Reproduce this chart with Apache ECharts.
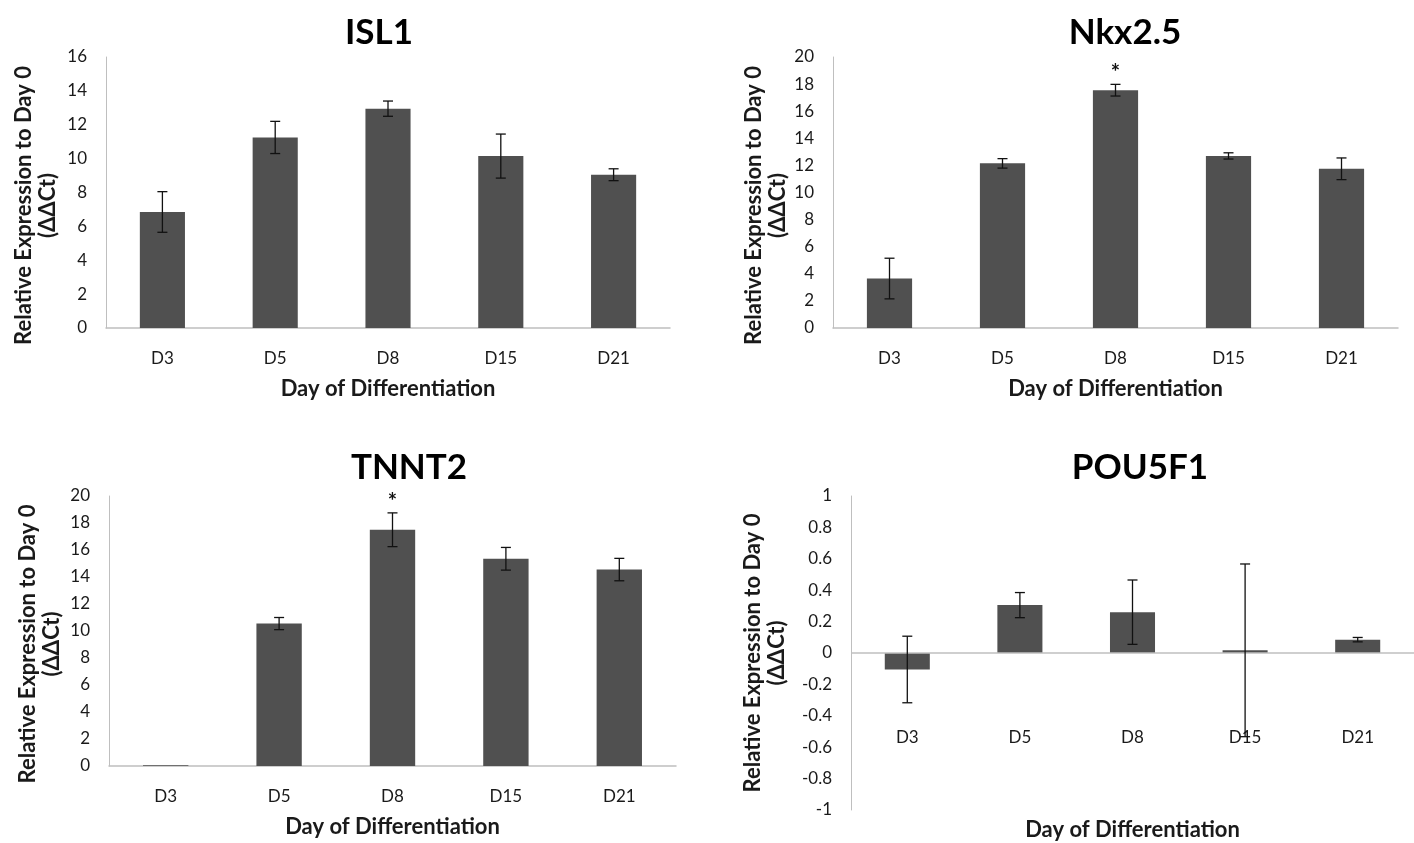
<!DOCTYPE html>
<html>
<head>
<meta charset="utf-8">
<script src="https://cdn.jsdelivr.net/npm/echarts@6/dist/echarts.min.js"></script>
<style>
  html, body { margin: 0; padding: 0; background: #fff; }
  #chart { width: 1414px; height: 843px; }
</style>
</head>
<body>
<div id="chart"></div>
<script>
// categories
const days = ["D3", "D5", "D8", "D15", "D21"];

// means and error (+/-)
const isl1Mean = [6.85, 11.25, 12.95, 10.15, 9.05];
const isl1Err = [1.2, 0.95, 0.45, 1.3, 0.35];

const nkxMean = [3.65, 12.15, 17.55, 12.7, 11.75];
const nkxErr = [1.5, 0.35, 0.43, 0.23, 0.8];
const nkxStar = ["", "", "*", "", ""];

const tnnt2Mean = [0.05, 10.55, 17.5, 15.35, 14.55];
const tnnt2Err = [0, 0.45, 1.25, 0.84, 0.83];
const tnnt2Star = ["", "", "*", "", ""];

const pouMean = [-0.105, 0.305, 0.26, 0.017, 0.085];
const pouErr = [0.212, 0.08, 0.205, 0.55, 0.014];

const FONT = "Lato";
const TXT = "#1a1a1a";
const BAR = "#505050";
const AXIS = "#bfbfbf";

// POU5F1 has negatives: its x axis sits at the bottom (line hidden),
// labels pulled up, and the zero line comes from a markLine
const panels = [
  { title: "ISL1", mean: isl1Mean, err: isl1Err, star: null, min: 0, max: 16, step: 2,
    grid: { left: 106, top: 57, width: 564, height: 271 }, tx: 374, ty: 10,
    labelMargin: 22, nameGap: 50, yNameGap: 46, yPad: 26, zeroLine: false },
  { title: "Nkx2.5", mean: nkxMean, err: nkxErr, star: nkxStar, min: 0, max: 20, step: 2,
    grid: { left: 833, top: 57, width: 565, height: 271 }, tx: 1120, ty: 10,
    labelMargin: 22, nameGap: 50, yNameGap: 42, yPad: 26, zeroLine: false },
  { title: "TNNT2", mean: tnnt2Mean, err: tnnt2Err, star: tnnt2Star, min: 0, max: 20, step: 2,
    grid: { left: 109, top: 496, width: 567, height: 270 }, tx: 404, ty: 445,
    labelMargin: 22, nameGap: 50, yNameGap: 45, yPad: 26, zeroLine: false },
  { title: "POU5F1", mean: pouMean, err: pouErr, star: null, min: -1, max: 1, step: 0.2,
    grid: { left: 851, top: 496, width: 563, height: 314 }, tx: 1135, ty: 445,
    labelMargin: -81, nameGap: 9, yNameGap: 62, yPad: 0, zeroLine: true }
];

let chart = echarts.init(document.getElementById("chart"));

let option = {
  backgroundColor: "#fff",
  animation: false,
  title: [],
  grid: [],
  xAxis: [],
  yAxis: [],
  series: []
};

panels.forEach((p, i) => {
  option.title.push({
    text: p.title,
    left: p.tx,
    top: p.ty,
    textAlign: "center",
    textStyle: { fontFamily: FONT, fontWeight: "bold", fontSize: 35, color: "#000" }
  });
  option.grid.push(Object.assign({ outerBoundsMode: "none", containLabel: false }, p.grid));
  option.xAxis.push({
    type: "category",
    gridIndex: i,
    data: days,
    axisLine: { show: !p.zeroLine, onZero: !p.zeroLine, lineStyle: { color: AXIS, width: 1.5 } },
    axisTick: { show: false },
    axisLabel: { margin: p.labelMargin, fontFamily: FONT, fontSize: 17, color: TXT },
    name: "Day of Differentiation",
    nameLocation: "middle",
    nameGap: p.nameGap,
    nameTextStyle: { fontFamily: FONT, fontWeight: "bold", fontSize: 22, color: TXT }
  });
  option.yAxis.push({
    type: "value",
    gridIndex: i,
    min: p.min,
    max: p.max,
    interval: p.step,
    splitLine: { show: false },
    axisLine: { show: true, lineStyle: { color: AXIS, width: 1 } },
    axisTick: { show: false },
    axisLabel: { margin: 19, fontFamily: FONT, fontSize: 17, color: TXT },
    name: "Relative Expression to Day 0\n(ΔΔCt)",
    nameLocation: "middle",
    nameRotate: 90,
    nameGap: p.yNameGap,
    nameTextStyle: { fontFamily: FONT, fontWeight: "bold", fontSize: 22, color: TXT,
                     lineHeight: 24, padding: [0, p.yPad, 0, 0] }
  });
  let bar = {
    type: "bar",
    xAxisIndex: i,
    yAxisIndex: i,
    barWidth: "40%",
    itemStyle: { color: BAR },
    data: p.mean
  };
  if (p.zeroLine) {
    bar.markLine = {
      silent: true,
      symbol: "none",
      label: { show: false },
      lineStyle: { color: AXIS, width: 1.5, type: "solid" },
      data: [{ yAxis: 0 }]
    };
  }
  option.series.push(bar);
  option.series.push({
    type: "custom",
    xAxisIndex: i,
    yAxisIndex: i,
    z: 5,
    data: p.mean.map((m, k) => [k, m, m - p.err[k], m + p.err[k], p.star ? p.star[k] : ""]),
    renderItem: (params, api) => {
      let top = api.coord([api.value(0), api.value(3)]);
      let bot = api.coord([api.value(0), api.value(2)]);
      let x = top[0];
      let cap = 5;
      let st = { stroke: "#111", lineWidth: 1.3 };
      let children = [];
      if (api.value(3) !== api.value(2)) {
        children.push(
          { type: "line", shape: { x1: x, y1: top[1], x2: x, y2: bot[1] }, style: st },
          { type: "line", shape: { x1: x - cap, y1: top[1], x2: x + cap, y2: top[1] }, style: st },
          { type: "line", shape: { x1: x - cap, y1: bot[1], x2: x + cap, y2: bot[1] }, style: st }
        );
      }
      let mark = p.star ? p.star[params.dataIndex] : "";
      if (mark) {
        children.push({
          type: "text",
          style: { text: mark, x: x, y: top[1], textAlign: "center", textVerticalAlign: "bottom",
                   fontFamily: FONT, fontSize: 22, fontWeight: "bold", fill: "#111" }
        });
      }
      return { type: "group", children: children };
    }
  });
});

chart.setOption(option);
</script>
</body>
</html>
